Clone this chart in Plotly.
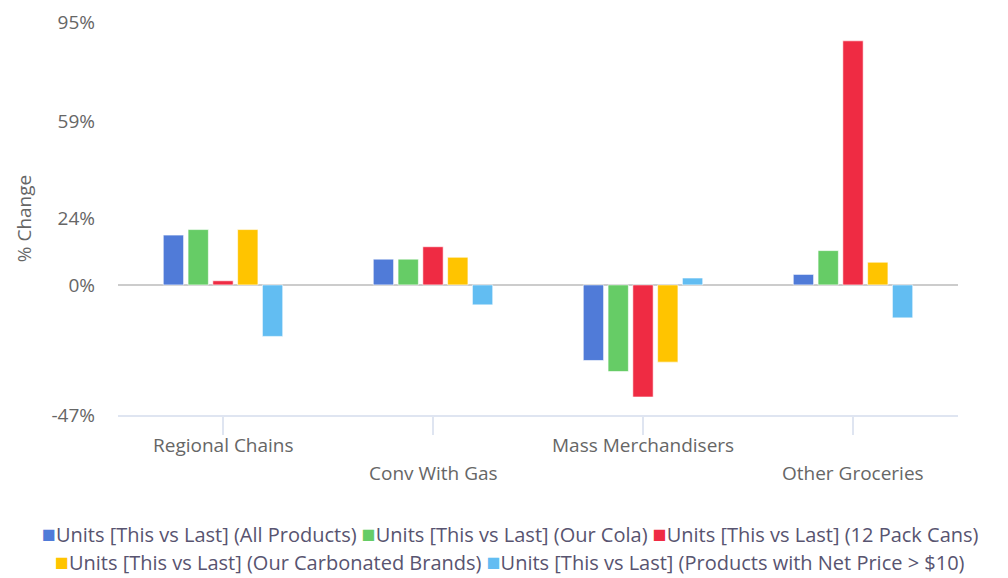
import plotly.graph_objects as go

categories = ['Regional Chains', 'Conv With Gas', 'Mass Merchandisers', 'Other Groceries']

series_names = [
    'Units [This vs Last] (All Products)',
    'Units [This vs Last] (Our Cola)',
    'Units [This vs Last] (12 Pack Cans)',
    'Units [This vs Last] (Our Carbonated Brands)',
    'Units [This vs Last] (Products with Net Price > $10)',
]

all_products = [18.0, 9.3, -27.3, 3.8]
our_cola = [20.0, 9.3, -31.3, 12.4]
pack_cans = [1.5, 13.8, -40.5, 88.2]
carbonated = [20.0, 10.0, -27.9, 8.2]
net_price_10 = [-18.6, -7.2, 2.5, -11.9]

y_ticks = [-47, 0, 24, 59, 95]
y_tick_labels = ['-47%', '0%', '24%', '59%', '95%']

colors = ['#507bd8', '#66cc66', '#ef2b43', '#ffc400', '#62bdf2']

font_family = 'Open Sans, Noto Sans, sans-serif'
text_color = '#666666'
legend_color = '#585470'
axis_color = '#dfe5f1'

fig = go.Figure()
all_series = [all_products, our_cola, pack_cans, carbonated, net_price_10]
for name, vals, col in zip(series_names, all_series, colors):
    fig.add_trace(go.Bar(
        x=categories,
        y=vals,
        name=name,
        marker=dict(color=col, line=dict(color='rgba(255,255,255,0.6)', width=1)),
        showlegend=False,
    ))

# staggered category labels, drawn as annotations so they can alternate rows
for i, cat in enumerate(categories):
    fig.add_annotation(
        x=cat, xref='x',
        y=-0.076 if i % 2 == 0 else -0.148, yref='paper',
        text=cat, showarrow=False,
        xanchor='center', yanchor='middle',
        font=dict(family=font_family, size=19, color=text_color),
    )


# legend as two centred rows of text (plotly's own legend wraps too early here)
def legend_row(idx):
    parts = []
    for i in idx:
        parts.append('<span style="color:%s;font-size:23px">■</span>%s' % (colors[i], series_names[i]))
    return ' '.join(parts)


for row, (idx, ypos) in enumerate([([0, 1, 2], -0.300), ([3, 4], -0.371)]):
    fig.add_annotation(
        x=0.467, xref='paper',
        y=ypos, yref='paper',
        text=legend_row(idx), showarrow=False,
        xanchor='center', yanchor='middle',
        borderpad=0,
        font=dict(family=font_family, size=20, color=legend_color),
    )

fig.update_layout(
    width=1000,
    height=570,
    margin=dict(l=110, r=50, t=14, b=163, autoexpand=False),
    paper_bgcolor='white',
    plot_bgcolor='white',
    barmode='group',
    bargap=0.41,
    bargroupgap=0.18,
    font=dict(family=font_family, size=19, color=text_color),
    showlegend=False,
)

fig.update_xaxes(
    showticklabels=False,
    showline=True,
    linecolor=axis_color,
    linewidth=2,
    ticks='outside',
    ticklen=18,
    tickwidth=2,
    tickcolor=axis_color,
    showgrid=False,
    automargin=False,
)

fig.update_yaxes(
    range=[-47, 95],
    tickvals=y_ticks,
    ticktext=y_tick_labels,
    showgrid=False,
    zeroline=True,
    zerolinecolor='#cccccc',
    zerolinewidth=2,
    ticklabelstandoff=22,
    automargin=False,
    title=dict(text='% Change', font=dict(family=font_family, size=19, color=text_color), standoff=14),
    tickfont=dict(family=font_family, size=19, color=text_color),
)

fig.write_html('out.html')
